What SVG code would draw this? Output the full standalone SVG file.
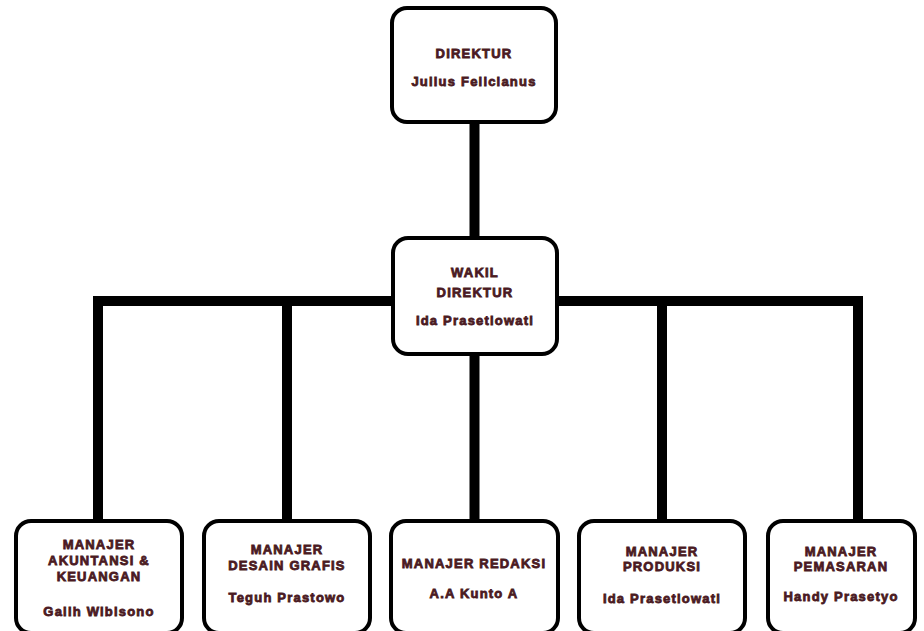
<svg xmlns="http://www.w3.org/2000/svg" width="924" height="631" viewBox="0 0 924 631">
<style>
.box{fill:#ffffff;stroke:#000000;stroke-width:4}
.t{font-family:"Liberation Sans",Arial,sans-serif;font-weight:bold;font-size:13px;letter-spacing:1.2px;fill:#4a1a22;stroke:#4a1a22;stroke-width:0.8;text-anchor:middle}
.c{stroke:#000000;stroke-width:10;fill:none;stroke-linecap:butt}
</style>
<rect width="924" height="631" fill="#ffffff"/>
<g id="connectors">
<line class="c" x1="474.5" y1="120" x2="474.5" y2="240"/>
<line class="c" x1="474.5" y1="350" x2="474.5" y2="522"/>
<polyline class="c" points="98,522 98,301 858,301 858,522"/>
<line class="c" x1="287" y1="301" x2="287" y2="522"/>
<line class="c" x1="662" y1="301" x2="662" y2="522"/>
</g>
<g id="direktur">
<rect class="box" x="392" y="8" width="164" height="114" rx="15"/>
<text class="t" x="474" y="58">DIREKTUR</text>
<text class="t" x="474" y="86">Julius Felicianus</text>
</g>
<g id="wakil">
<rect class="box" x="393" y="238" width="164" height="116" rx="15"/>
<text class="t" x="475" y="277">WAKIL</text>
<text class="t" x="475" y="297">DIREKTUR</text>
<text class="t" x="475" y="325">Ida Prasetiowati</text>
</g>
<g id="akuntansi">
<rect class="box" x="16" y="521" width="166" height="112" rx="15"/>
<text class="t" x="99" y="549">MANAJER</text>
<text class="t" x="99" y="565">AKUNTANSI &amp;</text>
<text class="t" x="99" y="581">KEUANGAN</text>
<text class="t" x="99" y="616">Galih Wibisono</text>
</g>
<g id="desain">
<rect class="box" x="204" y="521" width="166" height="112" rx="15"/>
<text class="t" x="287" y="554">MANAJER</text>
<text class="t" x="287" y="570">DESAIN GRAFIS</text>
<text class="t" x="287" y="602">Teguh Prastowo</text>
</g>
<g id="redaksi">
<rect class="box" x="391" y="521" width="167" height="112" rx="15"/>
<text class="t" x="474" y="568">MANAJER REDAKSI</text>
<text class="t" x="474" y="598">A.A Kunto A</text>
</g>
<g id="produksi">
<rect class="box" x="579" y="521" width="166" height="112" rx="15"/>
<text class="t" x="662" y="556">MANAJER</text>
<text class="t" x="662" y="571">PRODUKSI</text>
<text class="t" x="662" y="603">Ida Prasetiowati</text>
</g>
<g id="pemasaran">
<rect class="box" x="768" y="521" width="147" height="112" rx="15"/>
<text class="t" x="841" y="556">MANAJER</text>
<text class="t" x="841" y="571">PEMASARAN</text>
<text class="t" x="841" y="601">Handy Prasetyo</text>
</g>
</svg>
